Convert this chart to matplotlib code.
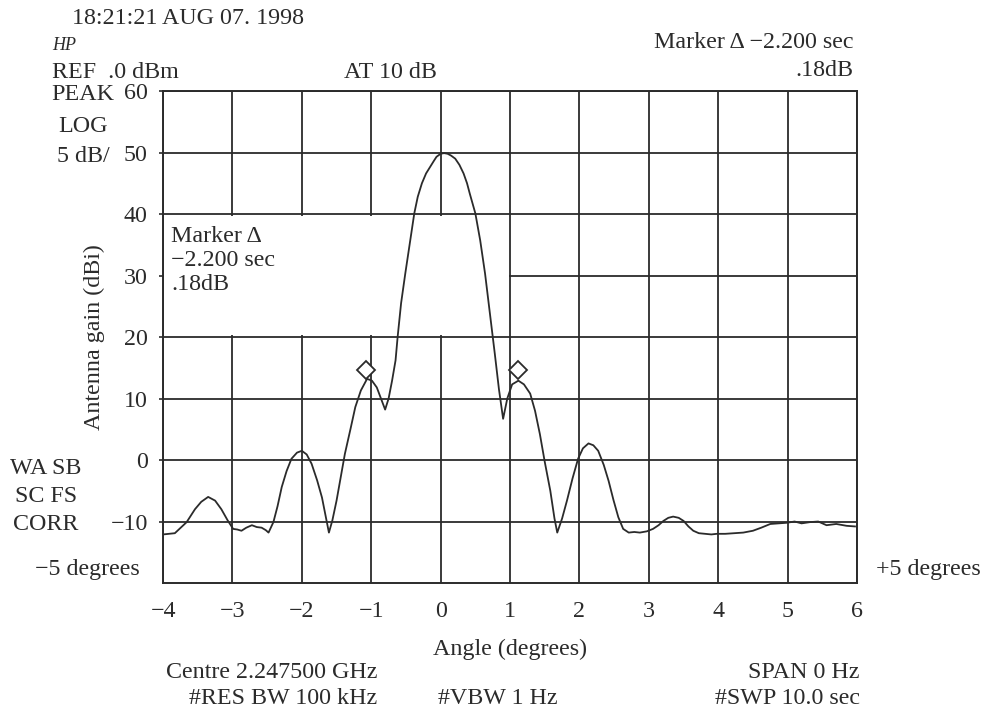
import matplotlib.pyplot as plt
from matplotlib.patches import Rectangle

# Measured antenna pattern (angle in degrees, gain in dBi)
angle = [-4.00, -3.83, -3.66, -3.54, -3.45, -3.35, -3.25, -3.16, -3.07, -2.99, -2.93,
         -2.87, -2.80, -2.72, -2.65, -2.58, -2.52, -2.48, -2.41, -2.35, -2.29, -2.22,
         -2.15, -2.07, -2.00, -1.93, -1.86, -1.78, -1.71, -1.65, -1.61, -1.56, -1.50,
         -1.44, -1.38, -1.30, -1.23, -1.15, -1.06, -0.99, -0.92, -0.86, -0.80, -0.75,
         -0.70, -0.65, -0.62, -0.57, -0.51, -0.44, -0.38, -0.33, -0.27, -0.21, -0.15,
         -0.10, -0.06, 0.00, 0.05, 0.10, 0.15, 0.21, 0.27, 0.33, 0.38, 0.42, 0.50,
         0.57, 0.64, 0.71, 0.78, 0.84, 0.90, 0.96,
         1.03, 1.12, 1.20, 1.29, 1.36, 1.43, 1.50, 1.58, 1.64, 1.68, 1.75, 1.82, 1.90,
         1.98, 2.05, 2.13, 2.20, 2.27, 2.35, 2.42, 2.49, 2.56, 2.63, 2.71, 2.79, 2.87,
         2.97, 3.06, 3.14, 3.21, 3.28, 3.35, 3.43, 3.50, 3.57, 3.64, 3.72, 3.81, 3.90,
         3.98, 4.10, 4.22, 4.36, 4.50, 4.62, 4.75, 4.87, 4.99, 5.10, 5.20, 5.32, 5.44,
         5.56, 5.70, 5.85, 5.97]
gain = [-12.1, -11.9, -10.1, -8.0, -6.8, -6.0, -6.6, -8.0, -9.8, -11.2, -11.3,
        -11.5, -11.0, -10.6, -10.9, -11.0, -11.4, -11.8, -10.1, -7.5, -4.4, -1.8,
        0.2, 1.2, 1.5, 0.9, -0.6, -3.3, -6.1, -9.5, -11.8, -9.8, -6.6,
        -2.8, 1.0, 5.0, 8.6, 11.3, 13.2, 12.9, 11.8, 10.0, 8.2, 10.0,
        12.9, 16.2, 20.0, 25.5, 30.3, 35.6, 40.1, 42.8, 45.0, 46.6, 47.7,
        48.6, 49.3, 49.8, 49.9, 49.8, 49.5, 49.0, 48.0, 46.6, 45.0, 43.3, 40.1,
        35.7, 30.3, 23.8, 17.3, 11.5, 6.7, 10.0,
        12.3, 12.9, 12.3, 10.8, 8.0, 4.2, -0.3, -5.0, -9.5, -11.8, -9.5, -6.6, -3.0,
        0.2, 1.9, 2.7, 2.4, 1.5, -0.8, -3.4, -6.5, -9.3, -11.2, -11.8, -11.7, -11.8,
        -11.6, -11.2, -10.6, -9.9, -9.4, -9.2, -9.4, -9.9, -10.8, -11.5, -11.9, -12.0,
        -12.1, -12.0, -12.0, -11.9, -11.8, -11.5, -11.0, -10.4, -10.3, -10.2, -10.0,
        -10.3, -10.1, -10.0, -10.6, -10.4, -10.7, -10.8]

# Marker positions (diamonds over the first sidelobes)
marker_angle = [-1.08, 1.12]
marker_gain = [14.7, 14.6]

x_ticks = [-4, -3, -2, -1, 0, 1, 2, 3, 4, 5, 6]
y_ticks = [-10, 0, 10, 20, 30, 40, 50, 60]

plt.rcParams['font.family'] = ['Liberation Serif', 'DejaVu Serif']
ink = '#2b2b2b'
fs = 17.3


def minus(t):
    return '\u2212' + str(-t) if t < 0 else str(t)


fig = plt.figure(figsize=(9.84, 7.11), dpi=100)
ax = fig.add_axes([0.1657, 0.18, 0.7053, 0.692])

ax.set_xlim(-4, 6)
ax.set_ylim(-20, 60)
ax.set_xticks(x_ticks)
ax.set_yticks(y_ticks)
ax.set_xticklabels([minus(t) for t in x_ticks], fontsize=fs, color=ink)
ax.set_yticklabels([minus(t) for t in y_ticks], fontsize=fs, color=ink)
ax.tick_params(axis='y', length=3, width=1.2, color=ink, pad=8)
ax.tick_params(axis='x', length=0, pad=13)
ax.set_axisbelow(True)
ax.grid(True, color=ink, linewidth=1.3)
for s in ax.spines.values():
    s.set_color(ink)
    s.set_linewidth(1.4)

# White annotation panel blanks the grid behind it
ax.add_patch(Rectangle((-3.98, 20.25), 4.96, 19.5, facecolor='white', edgecolor='none', zorder=1))
ax.text(-3.88, 36.4, 'Marker \u0394', fontsize=fs, color=ink, va='center', zorder=3)
ax.text(-3.88, 32.5, '\u22122.200 sec', fontsize=fs, color=ink, va='center', zorder=3)
ax.text(-3.88, 28.6, '.18dB', fontsize=fs, color=ink, va='center', zorder=3)

ax.plot(angle, gain, color=ink, linewidth=1.3, zorder=2)
ax.plot(marker_angle, marker_gain, linestyle='none', marker='D', markersize=9.5,
        markerfacecolor='white', markeredgecolor=ink, markeredgewidth=1.3, zorder=4)

ax.set_xlabel('Angle (degrees)', fontsize=fs, color=ink, labelpad=12)
ax.set_ylabel('Antenna gain (dBi)', fontsize=fs, color=ink, labelpad=4)


# Analyser header / footer annotations
def ftext(px, py, s, ha='left', **kw):
    fig.text(px / 984, 1 - py / 711, s, ha=ha, va='center', color=ink,
             fontsize=kw.pop('fontsize', fs), **kw)


ftext(72, 18, '18:21:21 AUG 07. 1998')
ftext(52, 46, 'HP', fontsize=13, style='italic')
ftext(52, 73, 'REF  .0 dBm')
ftext(390, 73, 'AT 10 dB', ha='center')
ftext(853, 43, 'Marker \u0394 \u22122.200 sec', ha='right')
ftext(853, 70, '.18dB', ha='right')
ftext(83, 95, 'PEAK', ha='center')
ftext(83, 126, 'LOG', ha='center')
ftext(83, 156, '5 dB/', ha='center')
ftext(46, 469, 'WA SB', ha='center')
ftext(46, 497, 'SC FS', ha='center')
ftext(46, 525, 'CORR', ha='center')
ftext(35, 570, '\u22125 degrees')
ftext(876, 570, '+5 degrees')
ftext(377, 672, 'Centre 2.247500 GHz', ha='right')
ftext(377, 698, '#RES BW 100 kHz', ha='right')
ftext(438, 698, '#VBW 1 Hz')
ftext(860, 672, 'SPAN 0 Hz', ha='right')
ftext(860, 698, '#SWP 10.0 sec', ha='right')

fig.savefig('out.png', dpi=100)
